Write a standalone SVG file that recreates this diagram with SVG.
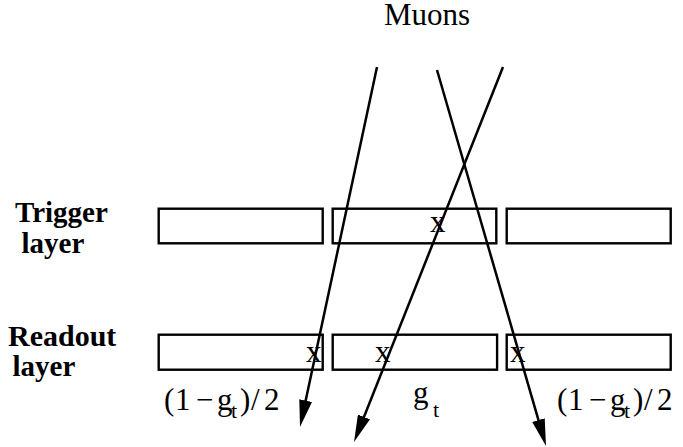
<svg xmlns="http://www.w3.org/2000/svg" width="683" height="447" viewBox="0 0 683 447">
<defs>
<marker id="arrow" viewBox="0 0 27 13" refX="17" refY="6.5" markerWidth="27" markerHeight="13" markerUnits="userSpaceOnUse" orient="auto">
<path d="M0,0 L27,6.5 L0,13 Z" fill="#000"/>
</marker>
</defs>
<rect width="683" height="447" fill="#fff"/>
<g font-family="Liberation Serif" fill="#000">
<g id="title"><text font-size="31" x="384" y="25">Muons</text></g>
<g id="trigger-label"><text font-size="29" font-weight="bold"><tspan x="15" y="222">Trigger</tspan><tspan x="21.5" y="253">layer</tspan></text></g>
<g id="readout-label"><text font-size="29" font-weight="bold"><tspan x="8" y="346" font-size="30">Readout</tspan><tspan x="12.5" y="376">layer</tspan></text></g>
</g>
<g fill="#fff" stroke="#000" stroke-width="2.4">
<g id="trigger-1"><rect x="158.7" y="208.7" width="164" height="34.6"/></g>
<g id="trigger-2"><rect x="332.7" y="208.7" width="163.6" height="34.6"/></g>
<g id="trigger-3"><rect x="506.7" y="208.7" width="164" height="34.6"/></g>
<g id="readout-1"><rect x="158.7" y="334.7" width="164" height="35"/></g>
<g id="readout-2"><rect x="332.7" y="334.7" width="164.4" height="35"/></g>
<g id="readout-3"><rect x="506.7" y="334.7" width="164" height="35"/></g>
</g>
<g id="connectors" stroke="#000" stroke-width="2.5" fill="none" marker-end="url(#arrow)">
<line x1="377" y1="67" x2="302.1" y2="417.2"/>
<line x1="437" y1="70" x2="543.2" y2="436.4"/>
<line x1="503" y1="67" x2="357.7" y2="432.7"/>
</g>
<g font-family="Liberation Serif" fill="#000" font-size="31">
<g id="hits">
<text x="430" y="232">x</text>
<text x="306" y="362">x</text>
<text x="375" y="362">x</text>
<text x="510" y="362">x</text>
</g>
<g id="prob-left"><text><tspan x="164 175 190 196 212 217" y="410">(1 − g</tspan><tspan font-size="22" x="231" y="418">t</tspan><tspan x="240 251 264" y="410">)/2</tspan></text></g>
<g id="prob-mid"><text><tspan x="413" y="403">g</tspan><tspan font-size="22" x="433" y="417">t</tspan></text></g>
<g id="prob-right"><text><tspan x="557 568 583 589 605 610" y="410">(1 − g</tspan><tspan font-size="22" x="624" y="418">t</tspan><tspan x="633 644 657" y="410">)/2</tspan></text></g>
</g>
</svg>
